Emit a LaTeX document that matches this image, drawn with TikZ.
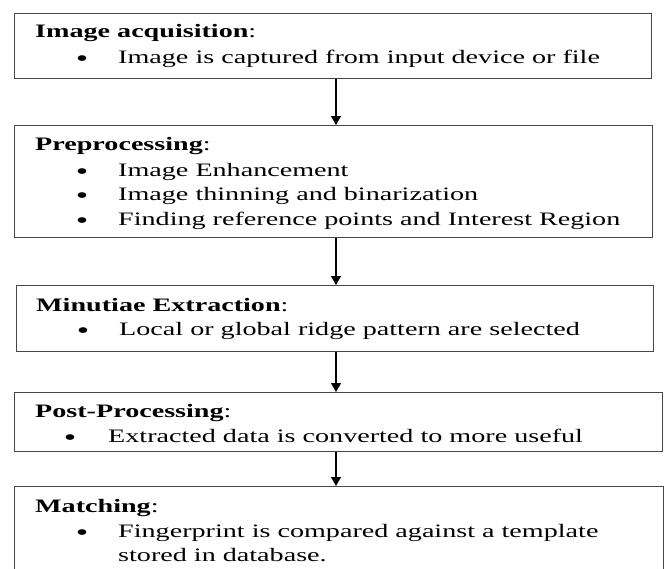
\documentclass[tikz,border=0pt]{standalone}
\usepackage{fontspec}
\setmainfont{Liberation Serif}[FakeStretch=1.48]
\usetikzlibrary{arrows.meta}
\begin{document}
\begin{tikzpicture}[x=1pt,y=-1pt,
  boxshape/.style={draw=black!72,line width=1.4pt,anchor=north west,inner sep=0pt},
  ttl/.style={anchor=base west,inner sep=0pt,font=\fontsize{19}{23}\selectfont},
  txt/.style={anchor=base west,inner sep=0pt,font=\fontsize{19}{23}\selectfont},
  bul/.style={anchor=base,inner sep=0pt,yshift=-3pt,font=\fontsize{24}{28}\selectfont},
  conn/.style={draw=black,line width=1.1pt,-{Triangle[width=10pt,length=9pt]}}]
\clip (0,0) rectangle (664,568);
\fill[white] (0,0) rectangle (664,568);
% boxes
\node[boxshape,minimum width=637pt,minimum height=65pt] (b1) at (14,13) {};
\node[boxshape,minimum width=638pt,minimum height=112pt] (b2) at (14,125) {};
\node[boxshape,minimum width=637pt,minimum height=66pt] (b3) at (16,285) {};
\node[boxshape,minimum width=648pt,minimum height=59pt] (b4) at (14,392) {};
\node[boxshape,minimum width=649pt,minimum height=130pt] (b5) at (14,486) {};
% box 1
\node[ttl] (t1) at (35,37.5) {\textbf{Image acquisition}:};
\node[bul] (p1) at (82,63) {•};
\node[txt] (l1) at (118,63) {Image is captured from input device or file};
% box 2
\node[ttl] (t2) at (35,150) {\textbf{Preprocessing}:};
\node[bul] (p2a) at (82,176) {•};
\node[txt] (l2a) at (118,176) {Image Enhancement};
\node[bul] (p2b) at (82,200.5) {•};
\node[txt] (l2b) at (118,200.5) {Image thinning and binarization};
\node[bul] (p2c) at (82,225.5) {•};
\node[txt] (l2c) at (118,225.5) {Finding reference points and Interest Region};
% box 3
\node[ttl] (t3) at (36,311.5) {\textbf{Minutiae Extraction}:};
\node[bul] (p3) at (83,335.5) {•};
\node[txt] (l3) at (119,335.5) {Local or global ridge pattern are selected};
% box 4
\node[ttl] (t4) at (35,417.5) {\textbf{Post-Processing}:};
\node[bul] (p4) at (70,442.5) {•};
\node[txt] (l4) at (108,442.5) {Extracted data is converted to more useful};
% box 5
\node[ttl] (t5) at (35,512.5) {\textbf{Matching}:};
\node[bul] (p5) at (82,537) {•};
\node[txt] (l5a) at (118,537) {Fingerprint is compared against a template};
\node[txt] (l5b) at (118,561) {stored in database.};
% arrows
\coordinate (ax) at (336,0);
\draw[conn] (b1.south -| ax) -- (b2.north -| ax);
\draw[conn] (b2.south -| ax) -- (b3.north -| ax);
\draw[conn] (b3.south -| ax) -- (b4.north -| ax);
\draw[conn] (b4.south -| ax) -- (b5.north -| ax);
\end{tikzpicture}
\end{document}
